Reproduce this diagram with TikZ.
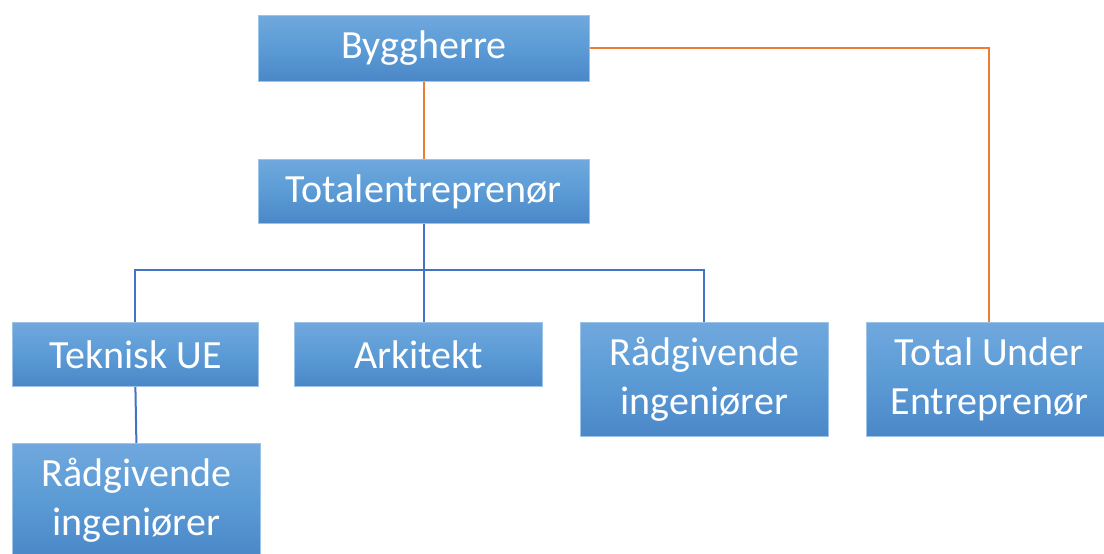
\documentclass[tikz,border=0pt]{standalone}
\usepackage{fontspec}
\setmainfont{Carlito}
\definecolor{boxtop}{HTML}{70A8DE}
\definecolor{boxmid}{HTML}{5B9BD5}
\definecolor{boxbot}{HTML}{4A87C8}
\definecolor{boxedge}{HTML}{9DC3E6}
\definecolor{linkblue}{HTML}{4472C4}
\definecolor{linkorange}{HTML}{ED7D31}
\begin{document}
\begin{tikzpicture}[x=1pt,y=-1pt,
  orgbox/.style={rectangle, anchor=north west, draw=boxedge, line width=0.8pt,
    top color=boxtop, bottom color=boxbot, middle color=boxmid,
    text=white, align=center, inner sep=0pt,
    font=\fontsize{40}{49}\selectfont},
  bluelink/.style={draw=linkblue, line width=2pt},
  orangelink/.style={draw=linkorange, line width=2pt}]
\useasboundingbox (0,0) rectangle (1104,554);
% boxes
\node[orgbox, minimum width=331pt, minimum height=66pt] (bh) at (258,15) {Byggherre};
\node[orgbox, minimum width=331pt, minimum height=64pt] (te) at (258,159) {Totalentreprenør};
\node[orgbox, minimum width=246pt, minimum height=64pt] (tue) at (12,322) {Teknisk UE};
\node[orgbox, minimum width=248pt, minimum height=64pt] (ark) at (294,322) {Arkitekt};
\node[orgbox, minimum width=248pt, minimum height=114pt] (ri1) at (580,322) {Rådgivende\\ingeniører};
\node[orgbox, minimum width=246pt, minimum height=114pt] (tu) at (866,322) {Total Under\\Entreprenør};
\node[orgbox, minimum width=248pt, minimum height=114pt] (ri2) at (12,443) {Rådgivende\\ingeniører};
% connectors
\coordinate (bus) at (423,270);
\draw[orangelink] (bh.south) -- (te.north);
\draw[orangelink] (bh.east) -| (tu.north);
\draw[bluelink] (te.south) -- (te.south |- ark.north);
\draw[bluelink] (tue.north) |- (bus) -| (ri1.north);
\draw[bluelink] (tue.south) -- (ri2.north);
\end{tikzpicture}
\end{document}
